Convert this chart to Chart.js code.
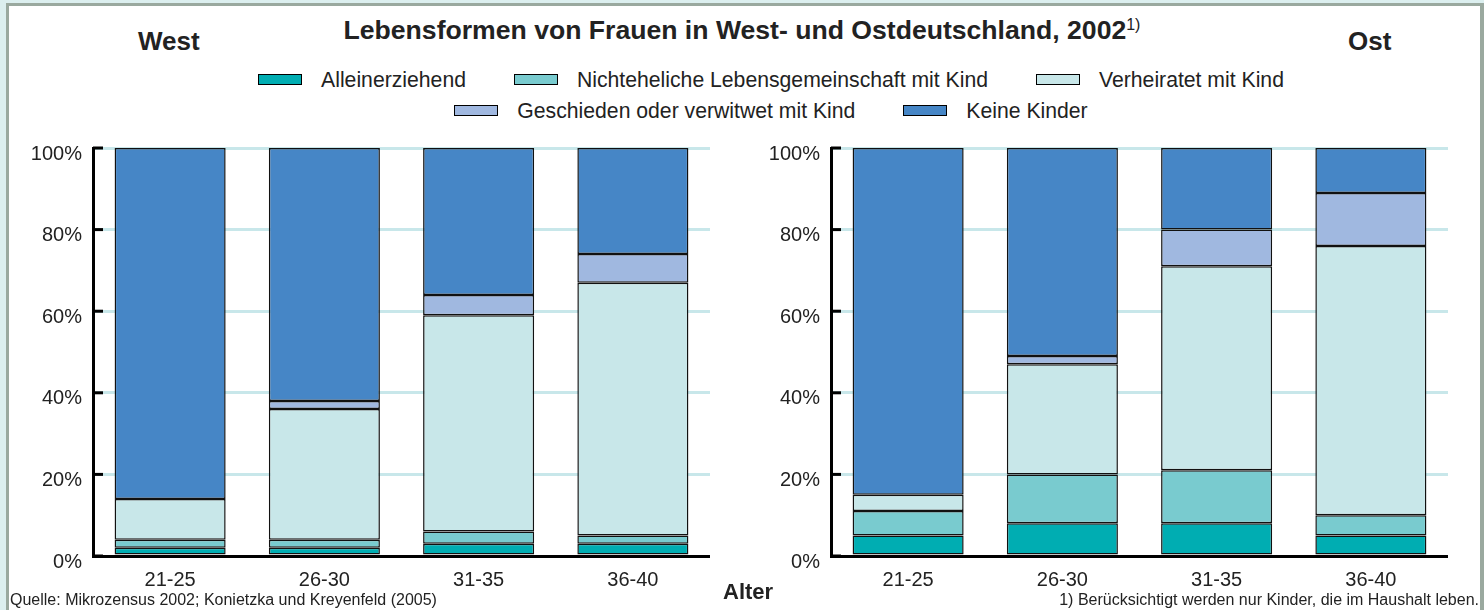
<!DOCTYPE html>
<html lang="de">
<head>
<meta charset="utf-8">
<title>Lebensformen von Frauen</title>
<script src="https://cdn.jsdelivr.net/npm/chart.js@4.4.1/dist/chart.umd.min.js"></script>
<style>
  body { margin: 0; width: 1484px; height: 610px; overflow: hidden; background: #dcefef; font-family: "Liberation Sans", Arial, sans-serif; color: #222; }
  #panel { position: absolute; left: 6px; top: 3px; width: 1471px; height: 620px; background: #fff; border-left: 3px solid #9aa99f; border-top: 3px solid #9aa99f; border-right: 4px solid #9aa99f; }
  .txt { position: absolute; line-height: 1; white-space: nowrap; }
  #title { left: 0; width: 1484px; text-align: center; top: 17px; font-size: 26.6px; font-weight: bold; }
  #title sup { font-size: 16px; font-weight: normal; vertical-align: 9px; }
  .region { top: 28px; font-size: 26px; font-weight: bold; }
  .legendRow { position: absolute; left: 0; width: 1542px; display: flex; justify-content: center; gap: 48px; font-size: 21.2px; line-height: 1; }
  .legendItem { display: flex; align-items: center; }
  .legendBox { width: 42px; height: 9px; border: 1px solid #000; margin-right: 19px; }
  .chartBox { position: absolute; top: 130px; height: 470px; }
</style>
</head>
<body>
<div id="panel"></div>
<div class="txt" id="title">Lebensformen von Frauen in West- und Ostdeutschland, 2002<sup>1)</sup></div>
<div class="txt region" style="left:138px">West</div>
<div class="txt region" style="left:1348px">Ost</div>
<div class="legendRow" id="legend1" style="top:69px"></div>
<div class="legendRow" id="legend2" style="top:100px"></div>
<div class="chartBox" style="left:0px;width:710px"><canvas id="chartWest"></canvas></div>
<div class="chartBox" style="left:740px;width:708px"><canvas id="chartOst"></canvas></div>
<div class="txt" style="left:723px;top:581px;font-size:22px;font-weight:bold">Alter</div>
<div class="txt" style="left:10px;top:592px;font-size:16px">Quelle: Mikrozensus 2002; Konietzka und Kreyenfeld (2005)</div>
<div class="txt" style="right:5px;top:592px;font-size:16px">1) Berücksichtigt werden nur Kinder, die im Haushalt leben.</div>

<script>
// Daten
var altersgruppen = ['21-25', '26-30', '31-35', '36-40'];
var serien = ['Alleinerziehend', 'Nichteheliche Lebensgemeinschaft mit Kind', 'Verheiratet mit Kind', 'Geschieden oder verwitwet mit Kind', 'Keine Kinder'];
var farben = ['#00adb2', '#79cbcf', '#c8e7e9', '#a0b8e0', '#4686c6'];
var yTicks = [0, 20, 40, 60, 80, 100];

// West
var alleinWest = [2, 2, 3, 3];
var nelWest = [2, 2, 3, 2];
var verheiratetWest = [10, 32, 53, 62];
var geschiedenWest = [0, 2, 5, 7];
var keineWest = [86, 62, 36, 26];

// Ost
var alleinOst = [5, 8, 8, 5];
var nelOst = [6, 12, 13, 5];
var verheiratetOst = [4, 27, 50, 66];
var geschiedenOst = [0, 2, 9, 13];
var keineOst = [85, 51, 20, 11];

// Legende (zwei Zeilen wie im Original)
function legendItem(i) {
  return '<div class="legendItem"><div class="legendBox" style="background:' + farben[i] + '"></div>' + serien[i] + '</div>';
}
document.getElementById('legend1').innerHTML = legendItem(0) + legendItem(1) + legendItem(2);
document.getElementById('legend2').innerHTML = legendItem(3) + legendItem(4);

// Tickstriche nach innen
var innereTicks = {
  id: 'innereTicks',
  afterDatasetsDraw: function(chart) {
    var ctx = chart.ctx, area = chart.chartArea, y = chart.scales.y;
    ctx.save();
    ctx.strokeStyle = '#000';
    ctx.lineWidth = 3;
    y.ticks.forEach(function(t) {
      var py = y.getPixelForValue(t.value);
      ctx.beginPath();
      ctx.moveTo(area.left, py);
      ctx.lineTo(area.left + 10, py);
      ctx.stroke();
    });
    ctx.restore();
  }
};

function baueChart(id, reihen, yBreite) {
  return new Chart(document.getElementById(id).getContext('2d'), {
    type: 'bar',
    data: {
      labels: altersgruppen,
      datasets: reihen.map(function(werte, i) {
        return {
          label: serien[i],
          data: werte,
          backgroundColor: farben[i],
          borderColor: '#111',
          borderWidth: 1.5,
          borderSkipped: false,
          categoryPercentage: 1,
          barPercentage: 0.72
        };
      })
    },
    options: {
      responsive: true,
      maintainAspectRatio: false,
      animation: false,
      layout: { padding: { top: 18, right: 0, left: 0, bottom: 0 } },
      plugins: { legend: { display: false }, tooltip: { enabled: false } },
      scales: {
        x: {
          stacked: true,
          grid: { display: false, drawTicks: false },
          border: { display: true, color: '#000', width: 3 },
          ticks: { color: '#222', padding: 12, font: { size: 20, family: 'Liberation Sans' } },
          afterFit: function(scale) { scale.height = 44; }
        },
        y: {
          stacked: true,
          min: 0,
          max: 100,
          afterBuildTicks: function(scale) { scale.ticks = yTicks.map(function(v) { return { value: v }; }); },
          grid: { color: '#c8e7ea', lineWidth: 3, drawTicks: false },
          border: { display: true, color: '#000', width: 3 },
          ticks: {
            color: '#222', padding: 11, labelOffset: 6,
            font: { size: 20, family: 'Liberation Sans' },
            callback: function(v) { return v + '%'; }
          },
          afterFit: function(scale) {
            scale.width = yBreite;
            scale.paddingTop = 0;
            scale.paddingBottom = 0;
          }
        }
      }
    },
    plugins: [innereTicks]
  });
}

baueChart('chartWest', [alleinWest, nelWest, verheiratetWest, geschiedenWest, keineWest], 93);
baueChart('chartOst', [alleinOst, nelOst, verheiratetOst, geschiedenOst, keineOst], 91);
</script>
</body>
</html>
